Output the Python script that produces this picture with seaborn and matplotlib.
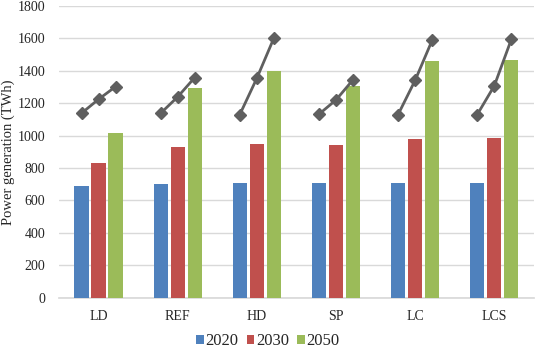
import matplotlib
matplotlib.use("Agg")
import matplotlib.pyplot as plt
import seaborn as sns
import pandas as pd
import numpy as np

scenarios = ["LD", "REF", "HD", "SP", "LC", "LCS"]
years = ["2020", "2030", "2050"]
gen_2020 = [691, 704, 706, 708, 708, 708]
gen_2030 = [829, 932, 951, 944, 977, 986]
gen_2050 = [1018, 1294, 1397, 1307, 1461, 1467]
# second series (line with diamonds) per scenario, for 2020/2030/2050
line_2020 = [1138, 1138, 1130, 1132, 1130, 1130]
line_2030 = [1224, 1239, 1354, 1220, 1341, 1307]
line_2050 = [1302, 1358, 1601, 1344, 1588, 1593]

colors = ["#4F81BD", "#C0504D", "#9BBB59"]

sns.set_theme(style="white")
plt.rcParams["font.family"] = ["Liberation Serif", "DejaVu Serif"]

df = pd.DataFrame({
    "scenario": scenarios * 3,
    "year": sum([[y] * len(scenarios) for y in years], []),
    "value": gen_2020 + gen_2030 + gen_2050,
})

fig, ax = plt.subplots(figsize=(5.36, 3.49), dpi=100)
fig.subplots_adjust(left=0.11, right=0.996, top=0.983, bottom=0.147)

total_w = 0.645
sns.barplot(data=df, x="scenario", y="value", hue="year", order=scenarios,
            hue_order=years, palette=colors, saturation=1, width=total_w,
            gap=0.16, ax=ax, zorder=3, linewidth=0)

slot = total_w / len(years)
offsets = [(k - 1) * slot for k in range(len(years))]
for i in range(len(scenarios)):
    xs = [i + o for o in offsets]
    ys = [line_2020[i], line_2030[i], line_2050[i]]
    ax.plot(xs, ys, color="#5F5F5F", lw=2, marker="D", markersize=6.5,
            markerfacecolor="#5F5F5F", markeredgecolor="#5F5F5F", zorder=4)

ax.set_ylim(0, 1800)
ax.set_yticks(range(0, 1801, 200))
ax.set_xlim(-0.5, len(scenarios) - 0.5)
ax.yaxis.grid(True, color="#D9D9D9", lw=1)
ax.set_axisbelow(True)
for s in ["top", "right", "left"]:
    ax.spines[s].set_visible(False)
ax.spines["bottom"].set_color("#D9D9D9")
ax.set_xlabel("")
ax.set_ylabel("Power generation (TWh)", fontsize=10.5)
ax.tick_params(axis="y", labelsize=10, length=0, pad=10)
ax.tick_params(axis="x", labelsize=10, length=0, pad=9)
ax.yaxis.set_label_coords(-0.092, 0.5)

handles, labels = ax.get_legend_handles_labels()
ax.legend_.remove()
fig.legend(handles, labels, loc="center", bbox_to_anchor=(0.5, 0.022),
           ncol=3, frameon=False, fontsize=12, handlelength=0.45,
           handleheight=0.45, handletextpad=0.1, columnspacing=0.5)

fig.savefig("out.png", dpi=100)
